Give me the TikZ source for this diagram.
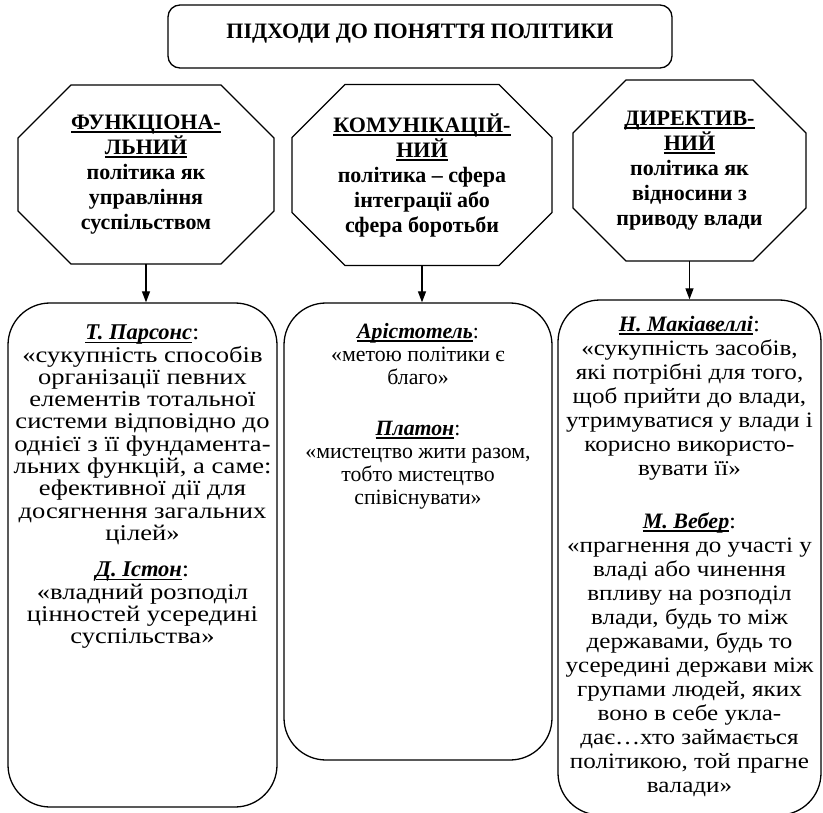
\documentclass[tikz,border=0pt]{standalone}
\usepackage{fontspec}
\setmainfont{Liberation Serif}
\newfontfamily\quotefont[FakeStretch=1.18]{Liberation Serif}
\newfontfamily\narrowfont[FakeStretch=1.14]{Liberation Serif}
\newfontfamily\namefont{Liberation Serif}
\usetikzlibrary{arrows.meta,positioning}
\newcommand{\headul}[1]{\setbox0=\hbox{#1}\rlap{\rule[-4pt]{\wd0}{2.2pt}}\box0}
\newcommand{\who}[1]{\setbox0=\hbox{\namefont\bfseries\itshape #1}\rlap{\rule[-3.5pt]{\wd0}{1.6pt}}\box0}
\newcommand{\octagon}[1]{\draw ([xshift=53pt]#1.north west) -- ([xshift=-53pt]#1.north east) -- ([yshift=-53pt]#1.north east) -- ([yshift=53pt]#1.south east) -- ([xshift=-53pt]#1.south east) -- ([xshift=53pt]#1.south west) -- ([yshift=53pt]#1.south west) -- ([yshift=-53pt]#1.north west) -- cycle;}

\begin{document}
\begin{tikzpicture}[x=1pt,y=-1pt,line width=1.3pt,>={Triangle[length=11pt,width=8pt]},
    title/.style={draw,rounded corners=12pt,minimum width=504pt,minimum height=63pt,text depth=10pt,font=\fontsize{22}{24}\selectfont\bfseries},
    approach/.style={align=center,inner sep=0pt,outer sep=0pt,font=\fontsize{22}{25}\selectfont\bfseries},
    quotebox/.style={draw,rounded corners=42pt},
    quotetext/.style={align=center,inner sep=0pt,font=\quotefont\fontsize{22.5}{22.3}\selectfont}]
                \useasboundingbox (0,0) rectangle (823,813);
                \node[title](heading)at(420, 36.5){ПІДХОДИ ДО ПОНЯТТЯ ПОЛІТИКИ};
                \node[approach,minimum width=256pt,minimum height=179pt](func)at(146, 174.5){\headul{ФУНКЦІОНА-}\\\headul{ЛЬНИЙ}\\політика як\\управління\\суспільством};
                \node[approach,minimum width=260pt,minimum height=181pt](comm)at(422, 175){\headul{КОМУНІКАЦІЙ-}\\\headul{НИЙ}\\політика – сфера\\інтеграції або\\сфера боротьби};
                \node[approach,minimum width=233pt,minimum height=181pt](dir)at(689.5, 170.5){\headul{ДИРЕКТИВ-}\\\headul{НИЙ}\\політика як\\відносини з\\приводу влади};
                \octagon{func}
                \octagon{comm}
                \octagon{dir}
                \node[quotebox,minimum width=269pt,minimum height=504pt](parsons)at(142.5, 555){};
                \node[quotebox,minimum width=268pt,minimum height=457pt](aristotle)at(418, 531.5){};
                \node[quotebox,minimum width=263pt,minimum height=515pt](machiavelli)at(689.5, 557.5){};
                \node[quotetext,below=22pt of parsons.north](parsonstext){\who{Т. Парсонс}:\\«сукупність способів\\організації певних\\елементів тотальної\\системи відповідно до\\однієї з її фундамента-\\льних функцій, а саме:\\ефективної дії для\\досягнення загальних\\цілей»\\[14pt]\who{Д. Істон}:\\«владний розподіл\\цінностей усередині\\суспільства»};
                \node[quotetext,font=\namefont\fontsize{21.8}{23.3}\selectfont,below=20pt of aristotle.north](aristotletext){\who{Арістотель}:\\«метою політики є\\благо»\\[27pt]\who{Платон}:\\«мистецтво жити разом,\\тобто мистецтво\\співіснувати»};
                \node[quotetext,font=\narrowfont\fontsize{22}{24}\selectfont,below=16pt of machiavelli.north](machiavellitext){\who{Н. Макіавеллі}:\\«сукупність засобів,\\які потрібні для того,\\щоб прийти до влади,\\утримуватися у влади і\\корисно використо-\\вувати її»\\[29pt]\who{М. Вебер}:\\«прагнення до участі у\\владі або чинення\\впливу на розподіл\\влади, будь то між\\державами, будь то\\усередині держави між\\групами людей, яких\\воно в себе укла-\\дає…хто займається\\політикою, той прагне\\валади»};
                \draw[->](func.south) -- (func.south |- parsons.north);
                \draw[->](comm.south) -- (comm.south |- aristotle.north);
                \draw[->](dir.south) -- (dir.south |- machiavelli.north);
\end{tikzpicture}
\end{document}
